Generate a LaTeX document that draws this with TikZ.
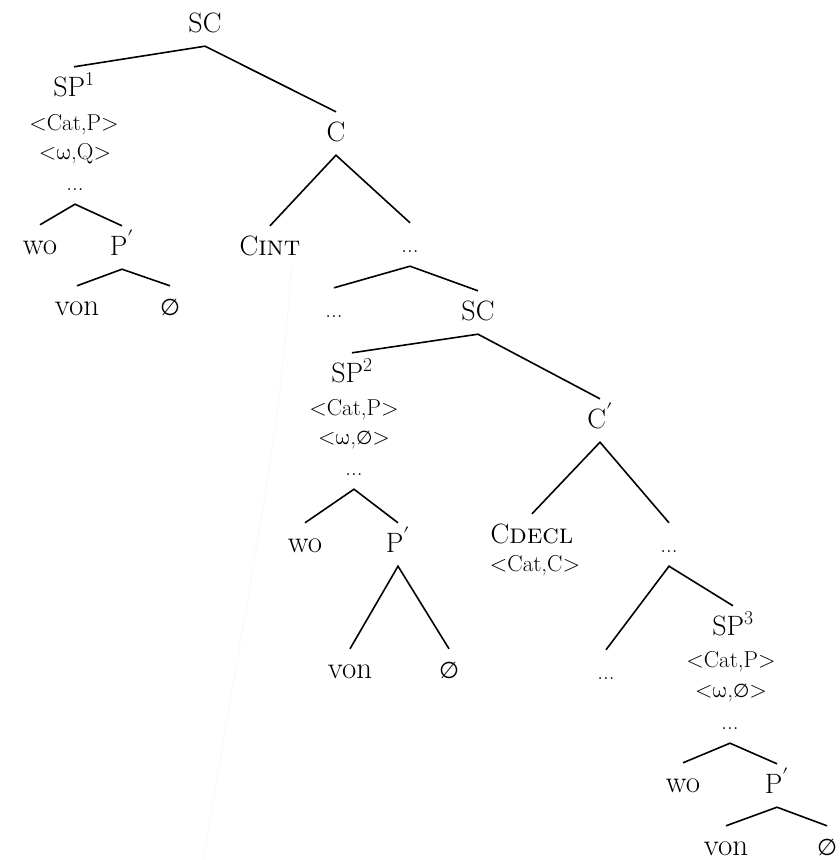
\documentclass[tikz,border=0pt]{standalone}
\usepackage{fontspec}
\usepackage{unicode-math}
\setmathfont{Latin Modern Math}
\newfontfamily\djv{DejaVu Sans}[Scale=0.82]
\newcommand{\nullset}{{\djv ∅}}
\newcommand{\omg}{$\symup{\omega}$}
\begin{document}
\begin{tikzpicture}[x=1pt,y=-1pt]
\tikzset{
  big/.style={font=\fontsize{28}{30}\selectfont},
  word/.style={font=\fontsize{31}{33}\selectfont},
  small/.style={font=\fontsize{23}{25}\selectfont},
  lbl/.style={anchor=base, inner xsep=0pt, inner ysep=8pt, text height=21pt, text depth=6pt},
  edge/.style={line width=1.6pt},
  faint/.style={gray!18, dotted, line width=0.8pt}
}
\useasboundingbox (0,0) rectangle (840,860);
% top tree
\node[lbl,big] (sc1) at (205,32) {SC};
\node[lbl,big] (sp1) at (74,96) {SP\textsuperscript{1}};
\node[lbl,small] (f1a) at (74,130) {<Cat,P>};
\node[lbl,small] (f1b) at (75,159) {<\omg,Q>};
\node[lbl,small] (d1) at (75,190) {...};
\node[lbl,word] (wo1) at (40,254) {wo};
\node[lbl,big] (pp1) at (122,255) {P$'$};
\node[lbl,word] (von1) at (77,315) {von};
\node[lbl,big] (e1) at (170,315) {\nullset};
\node[lbl,big] (c1) at (336,141) {C};
\node[lbl,big] (cint) at (270,255) {C\textsc{int}};
\node[lbl,small] (d6) at (410,252) {...};
\node[lbl,small] (dl) at (334,317) {...};
\node[lbl,big] (sc2) at (478,320) {SC};
% second SP
\node[lbl,big] (sp2) at (352,382) {SP\textsuperscript{2}};
\node[lbl,small] (f2a) at (354,415) {<Cat,P>};
\node[lbl,small] (f2b) at (354,444) {<\omg,\nullset>};
\node[lbl,small] (d2) at (354,475) {...};
\node[lbl,word] (wo2) at (305,552) {wo};
\node[lbl,big] (pp2) at (398,552) {P$'$};
\node[lbl,word] (von2) at (350,678) {von};
\node[lbl,big] (e2) at (449,678) {\nullset};
% C' subtree
\node[lbl,big] (cp) at (600,428) {C$'$};
\node[lbl,big] (cdecl) at (532,543) {C\textsc{decl}};
\node[lbl,small] (fc) at (535,571) {<Cat,C>};
\node[lbl,small] (d3) at (669,552) {...};
\node[lbl,small] (d4) at (606,679) {...};
\node[lbl,big] (sp3) at (733,635) {SP\textsuperscript{3}};
\node[lbl,small] (f3a) at (731,667) {<Cat,P>};
\node[lbl,small] (f3b) at (731,697) {<\omg,\nullset>};
\node[lbl,small] (d5) at (730,729) {...};
\node[lbl,word] (wo3) at (683,792) {wo};
\node[lbl,big] (pp3) at (777,793) {P$'$};
\node[lbl,word] (von3) at (726,855) {von};
\node[lbl,big] (e3) at (827,855) {\nullset};
% edges
\draw[edge] (sp1.north) -- (sc1.south) -- (c1.north);
\draw[edge] (wo1.north) -- (d1.south) -- (pp1.north);
\draw[edge] (von1.north) -- (pp1.south) -- (e1.north);
\draw[edge] (cint.north) -- (c1.south) -- (d6.north);
\draw[edge] (dl.north) -- (d6.south) -- (sc2.north);
\draw[edge] (sp2.north) -- (sc2.south) -- (cp.north);
\draw[edge] (wo2.north) -- (d2.south) -- (pp2.north);
\draw[edge] (von2.north) -- (pp2.south) -- (e2.north);
\draw[edge] (cdecl.north) -- (cp.south) -- (d3.north);
\draw[edge] (d4.north) -- (d3.south) -- (sp3.north);
\draw[edge] (wo3.north) -- (d5.south) -- (pp3.north);
\draw[edge] (von3.north) -- (pp3.south) -- (e3.north);
% faint dotted trace
\coordinate (g1) at (292,262);
\coordinate (g2) at (272,450);
\coordinate (g3) at (203,860);
\draw[faint] plot[smooth] coordinates {(g1) (g2) (g3)};
\end{tikzpicture}
\end{document}
